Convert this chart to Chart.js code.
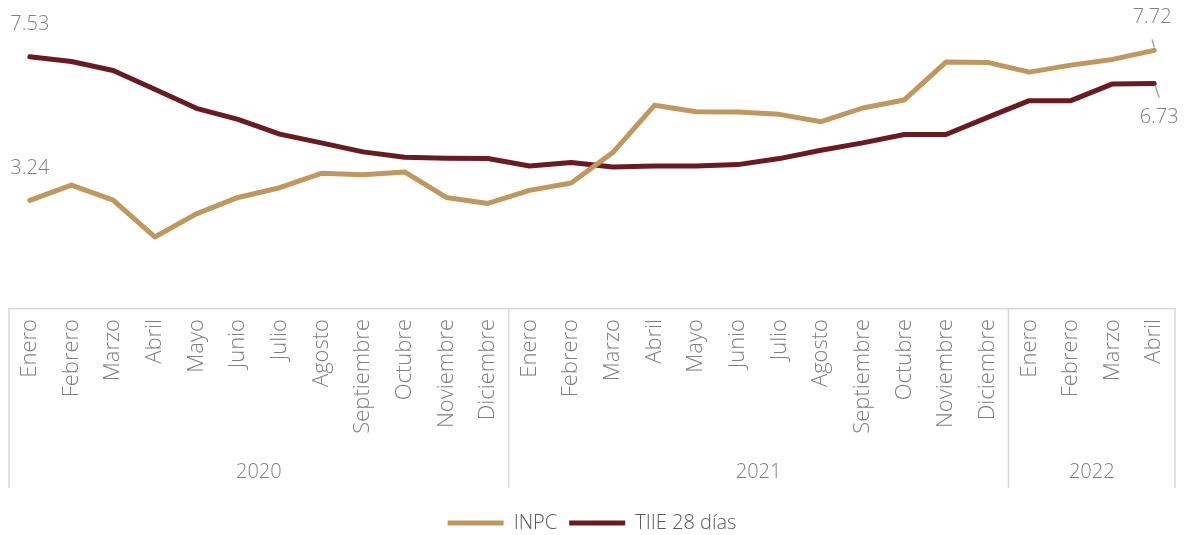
<!DOCTYPE html>
<html lang="es">
<head>
<meta charset="utf-8">
<title>INPC y TIIE 28 días</title>
<script src="https://cdn.jsdelivr.net/npm/chart.js@4.4.1/dist/chart.umd.min.js"></script>
<style>
    body { margin: 0; background: #fff; }
    #contenedor { width: 1185px; height: 535px; }
</style>
</head>
<body>
<div id="contenedor"><canvas id="graficoInflacion"></canvas></div>
<script>
// Datos mensuales (enero 2020 - abril 2022)
const meses = ['Enero', 'Febrero', 'Marzo', 'Abril', 'Mayo', 'Junio', 'Julio', 'Agosto', 'Septiembre', 'Octubre', 'Noviembre', 'Diciembre',
    'Enero', 'Febrero', 'Marzo', 'Abril', 'Mayo', 'Junio', 'Julio', 'Agosto', 'Septiembre', 'Octubre', 'Noviembre', 'Diciembre',
    'Enero', 'Febrero', 'Marzo', 'Abril'];
const anios = ['2020', '2021', '2022'];
const mesesPorAnio = [12, 12, 4];
const inpc = [3.24, 3.70, 3.25, 2.15, 2.84, 3.33, 3.62, 4.05, 4.01, 4.09, 3.33, 3.15,
    3.54, 3.76, 4.67, 6.08, 5.89, 5.88, 5.81, 5.59, 6.00, 6.24, 7.37, 7.36,
    7.07, 7.28, 7.45, 7.72];
const tiie = [7.53, 7.39, 7.12, 6.56, 5.99, 5.66, 5.22, 4.96, 4.69, 4.53, 4.50, 4.49,
    4.27, 4.37, 4.24, 4.27, 4.27, 4.31, 4.49, 4.74, 4.96, 5.21, 5.21, 5.72,
    6.22, 6.22, 6.72, 6.73];

const fuente = '"Open Sans", "Noto Sans", sans-serif';
const grisTexto = '#7f7f7f';
const grisLinea = '#d9d9d9';

// Caja con los años debajo de los meses
const gruposAnio = {
    id: 'gruposAnio',
    afterDraw(chart) {
        const ctx = chart.ctx;
        const ejeX = chart.scales.x;
        const paso = ejeX.getPixelForValue(1) - ejeX.getPixelForValue(0);
        const arriba = ejeX.top;
        const abajo = arriba + 179;
        ctx.save();
        ctx.strokeStyle = grisLinea;
        ctx.lineWidth = 1.5;
        ctx.fillStyle = grisTexto;
        ctx.font = '300 20px ' + fuente;
        ctx.textAlign = 'center';
        ctx.textBaseline = 'middle';
        let inicio = 0;
        const xIni = ejeX.getPixelForValue(0) - paso / 2;
        ctx.beginPath();
        ctx.moveTo(xIni, arriba);
        ctx.lineTo(xIni, abajo);
        ctx.stroke();
        anios.forEach((anio, i) => {
            const fin = inicio + mesesPorAnio[i] - 1;
            const x0 = ejeX.getPixelForValue(inicio) - paso / 2;
            const x1 = ejeX.getPixelForValue(fin) + paso / 2;
            ctx.beginPath();
            ctx.moveTo(x1, arriba);
            ctx.lineTo(x1, abajo);
            ctx.stroke();
            ctx.fillText(anio, (x0 + x1) / 2, arriba + 163);
            inicio = fin + 1;
        });
        ctx.restore();
    }
};

// Etiquetas del primer y último valor de cada serie
const etiquetasExtremos = {
    id: 'etiquetasExtremos',
    afterDatasetsDraw(chart) {
        const ctx = chart.ctx;
        ctx.save();
        ctx.font = '300 20px ' + fuente;
        ctx.fillStyle = grisTexto;
        ctx.strokeStyle = '#a6a6a6';
        ctx.lineWidth = 1.5;
        ctx.textAlign = 'center';
        ctx.textBaseline = 'middle';
        chart.data.datasets.forEach((ds, i) => {
            const puntos = chart.getDatasetMeta(i).data;
            const primero = puntos[0];
            ctx.fillText(ds.data[0].toFixed(2), primero.x, primero.y - 32);
            const ultimo = puntos[puntos.length - 1];
            const valor = ds.data[ds.data.length - 1].toFixed(2);
            if (i === 0) {
                ctx.beginPath();
                ctx.moveTo(ultimo.x - 2, ultimo.y - 11);
                ctx.lineTo(ultimo.x, ultimo.y - 3);
                ctx.stroke();
                ctx.fillText(valor, ultimo.x - 2, ultimo.y - 33);
            } else {
                ctx.beginPath();
                ctx.moveTo(ultimo.x + 1, ultimo.y + 2);
                ctx.lineTo(ultimo.x + 5, ultimo.y + 14);
                ctx.stroke();
                ctx.fillText(valor, ultimo.x + 5, ultimo.y + 34);
            }
        });
        ctx.restore();
    }
};

const ctxLineas = document.getElementById('graficoInflacion');
const grafico = new Chart(ctxLineas, {
    type: 'line',
    data: {
        labels: meses,
        datasets: [{
            label: 'INPC',
            data: inpc,
            borderColor: 'rgb(192, 151, 92)',
            backgroundColor: 'rgb(192, 151, 92)',
            borderWidth: 5,
            borderCapStyle: 'round',
            borderJoinStyle: 'round',
            pointRadius: 0,
            tension: 0
        }, {
            label: 'TIIE 28 días',
            data: tiie,
            borderColor: 'rgb(107, 26, 33)',
            backgroundColor: 'rgb(107, 26, 33)',
            borderWidth: 5,
            borderCapStyle: 'round',
            borderJoinStyle: 'round',
            pointRadius: 0,
            tension: 0
        }]
    },
    options: {
        responsive: true,
        maintainAspectRatio: false,
        animation: false,
        layout: { padding: { top: 41, left: 9, right: 10, bottom: -8 } },
        scales: {
            x: {
                offset: true,
                grid: { display: false, drawTicks: false },
                border: { display: true, color: grisLinea, width: 1.5 },
                ticks: {
                    autoSkip: false,
                    minRotation: 90,
                    maxRotation: 90,
                    padding: 10,
                    color: grisTexto,
                    font: { family: fuente, size: 22, weight: 300 }
                },
                afterFit: (eje) => {
                    eje.height = 192;
                    eje.paddingLeft = 0;
                    eje.paddingRight = 0;
                }
            },
            y: {
                display: false,
                min: 0,
                max: 8
            }
        },
        plugins: {
            legend: {
                position: 'bottom',
                labels: {
                    usePointStyle: true,
                    pointStyle: 'line',
                    pointStyleWidth: 56,
                    color: '#595959',
                    padding: 12,
                    font: { family: fuente, size: 20, weight: 300 }
                }
            },
            tooltip: { enabled: false }
        }
    },
    plugins: [gruposAnio, etiquetasExtremos]
});
</script>
</body>
</html>
